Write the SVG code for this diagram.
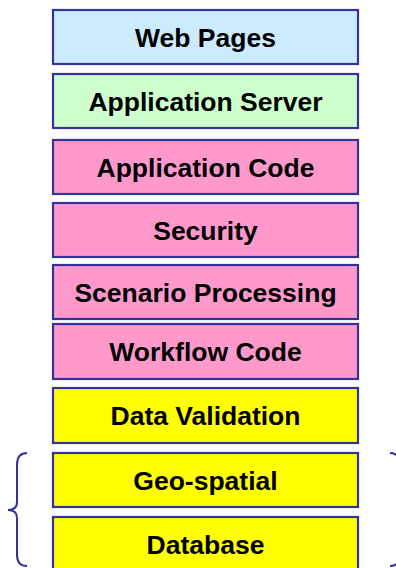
<svg xmlns="http://www.w3.org/2000/svg" width="396" height="568" viewBox="0 0 396 568">
<style>
.box{stroke:#333399;stroke-width:2.2}
.lbl{font-family:"Liberation Sans",Arial,sans-serif;font-weight:bold;font-size:26.5px;fill:#000;text-anchor:middle}
.brace{fill:none;stroke:#333399;stroke-width:2}
.blue{fill:#CCEBFF}.green{fill:#CCFFCC}.pink{fill:#FF99CC}.yellow{fill:#FFFF00}
</style>
<rect width="396" height="568" fill="#fff"/>
<g id="web-pages"><rect class="box blue" x="53" y="10" width="305" height="54"/><text class="lbl" x="205.5" y="46.5">Web Pages</text></g>
<g id="application-server"><rect class="box green" x="53" y="74" width="305" height="54"/><text class="lbl" x="205.5" y="110.5">Application Server</text></g>
<g id="application-code"><rect class="box pink" x="53" y="140" width="305" height="54"/><text class="lbl" x="205.5" y="176.5">Application Code</text></g>
<g id="security"><rect class="box pink" x="53" y="203" width="305" height="54"/><text class="lbl" x="205.5" y="239.5">Security</text></g>
<g id="scenario-processing"><rect class="box pink" x="53" y="265" width="305" height="54"/><text class="lbl" x="205.5" y="301.5">Scenario Processing</text></g>
<g id="workflow-code"><rect class="box pink" x="53" y="324" width="305" height="55"/><text class="lbl" x="205.5" y="361">Workflow Code</text></g>
<g id="data-validation"><rect class="box yellow" x="53" y="388" width="305" height="55"/><text class="lbl" x="205.5" y="425">Data Validation</text></g>
<g id="geo-spatial"><rect class="box yellow" x="53" y="453" width="305" height="54"/><text class="lbl" x="205.5" y="489.5">Geo-spatial</text></g>
<g id="database"><rect class="box yellow" x="53" y="517" width="305" height="54"/><text class="lbl" x="205.5" y="553.5">Database</text></g>
<g id="connectors">
<path class="brace" d="M27,453 Q17,453 17,465 L17,502 Q17,510 8,510 Q17,510 17,518 L17,555 Q17,566 27,566"/>
<path class="brace" d="M390,453 Q400,453 400,465 L400,502 Q400,510 409,510 Q400,510 400,518 L400,555 Q400,566 390,566"/>
</g>
</svg>
